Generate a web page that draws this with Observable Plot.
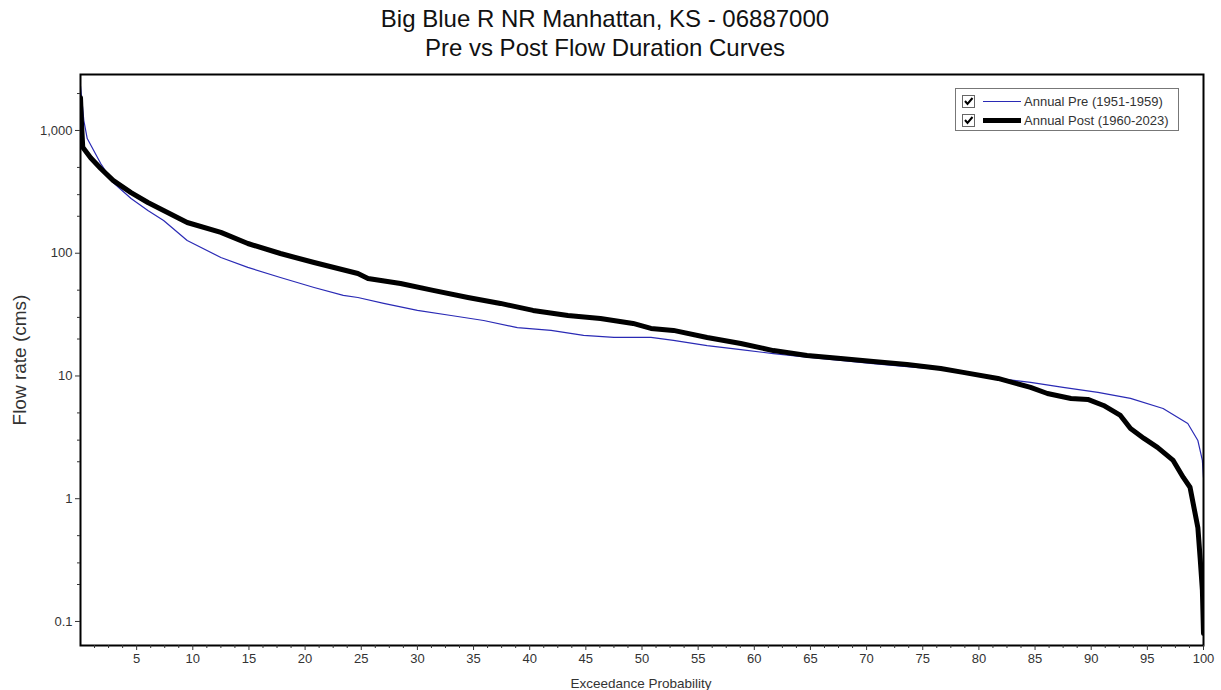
<!DOCTYPE html>
<html>
<head>
<meta charset="utf-8">
<script src="https://cdn.jsdelivr.net/npm/d3@7"></script>
<script src="https://cdn.jsdelivr.net/npm/@observablehq/plot@0.6"></script>
<style>
  html, body { margin: 0; padding: 0; background: #fff; }
  #wrap { position: relative; width: 1221px; height: 690px; font-family: "Liberation Sans", Arial, sans-serif; color: #111; overflow: hidden; }
  #title { position: absolute; left: 0; top: 4px; width: 1210px; text-align: center; font-size: 24px; line-height: 29px; color: #111; }
  #chart { position: absolute; left: 0; top: 64px; }
  #ylabel { position: absolute; left: 20px; top: 360px; transform: translate(-50%, -50%) rotate(-90deg); font-size: 19px; color: #333; white-space: nowrap; }
  #xlabel { position: absolute; left: 641px; top: 683px; transform: translate(-50%, -50%); font-size: 13.5px; color: #333; white-space: nowrap; }
  #legend { position: absolute; left: 955px; top: 88px; width: 224px; height: 43px; border: 1px solid #777; background: #fff; box-sizing: border-box; font-size: 13px; color: #333; }
  .row { position: absolute; left: 6px; height: 16px; display: flex; align-items: center; }
  .cb { width: 11px; height: 11px; border: 1px solid #666; position: relative; margin-right: 8px; background: #fff; }
  .cb svg { position: absolute; left: 0; top: 0; }
  .ln { width: 38px; margin-right: 3px; }
</style>
</head>
<body>
<div id="wrap">
  <div id="title">Big Blue R NR Manhattan, KS - 06887000<br>Pre vs Post Flow Duration Curves</div>
  <div id="chart"></div>
  <div id="ylabel">Flow rate (cms)</div>
  <div id="xlabel">Exceedance Probability</div>
  <div id="legend">
    <div class="row" style="top:4px"><div class="cb"><svg width="11" height="11"><path d="M2 5 L4.5 8 L9.5 2" stroke="#000" stroke-width="2" fill="none"/></svg></div><div class="ln" style="border-top:1.2px solid #2a2ab5"></div><span>Annual Pre (1951-1959)</span></div>
    <div class="row" style="top:23px"><div class="cb"><svg width="11" height="11"><path d="M2 5 L4.5 8 L9.5 2" stroke="#000" stroke-width="2" fill="none"/></svg></div><div class="ln" style="border-top:5px solid #000"></div><span>Annual Post (1960-2023)</span></div>
  </div>
</div>
<script>
// Pre period (1951-1959) flow duration curve
const preExceed = [0, 0.3, 0.6, 1.8, 2.9, 4.5, 6, 7.4, 9.5, 12.5, 14.9, 17.8, 20.8, 23.4, 24.7, 27, 30, 33, 35.9, 38.9, 41.9, 44.8, 47.5, 50.8, 52.8, 55.8, 58.8, 61.7, 64.7, 67.7, 70.6, 73.6, 76.6, 78.6, 81.7, 84.6, 87.5, 90.6, 93.5, 96.4, 98.6, 99.5, 99.9, 100];
const preFlow = [2300, 1200, 860, 538, 377, 279, 223, 185, 127, 92.3, 76.6, 63.4, 52.6, 45.3, 43.6, 39, 34.2, 31.1, 28.3, 24.8, 23.5, 21.4, 20.6, 20.6, 19.5, 17.7, 16.4, 15.2, 14.2, 13.4, 12.6, 11.9, 11.3, 10.5, 9.55, 8.86, 8.06, 7.34, 6.56, 5.43, 4.1, 2.98, 2.05, 1.49];

// Post period (1960-2023) flow duration curve
const postExceed = [0, 0.1, 0.2, 0.9, 1.8, 2.9, 4.5, 6, 7.4, 9.5, 12.5, 14.9, 17.8, 20.8, 24.7, 25.6, 28.5, 31.4, 34.5, 37.4, 40.3, 43.4, 46.3, 49.2, 50.8, 52.8, 55.8, 58.8, 61.7, 64.7, 67.7, 70.6, 73.6, 76.6, 78.6, 81.7, 84.6, 86.1, 88.2, 89.7, 91.1, 92.6, 93.5, 94.7, 95.9, 97.3, 98.2, 98.8, 99.5, 99.7, 99.9, 100];
const postFlow = [1850, 1100, 730, 600, 490, 392, 312, 259, 223, 178, 148, 120, 99.5, 84, 68.4, 62.3, 56.7, 49.8, 43.6, 39.0, 34.2, 31.1, 29.4, 26.8, 24.4, 23.5, 20.6, 18.4, 16.1, 14.7, 13.9, 13.1, 12.4, 11.5, 10.7, 9.55, 8.06, 7.2, 6.56, 6.44, 5.75, 4.77, 3.73, 3.1, 2.62, 2.05, 1.49, 1.24, 0.58, 0.33, 0.18, 0.08];

const xMajorTicks = [5, 10, 15, 20, 25, 30, 35, 40, 45, 50, 55, 60, 65, 70, 75, 80, 85, 90, 95, 100];
const xMinorTicks = d3.range(1, 80).map(i => i * 1.25).filter(v => v < 100 && v % 5 !== 0);
const yMajorTicks = [0.1, 1, 10, 100, 1000];
const yMinorTicks = [0.2, 0.3, 0.5, 2, 3, 5, 20, 30, 50, 200, 300, 500, 2000];

const pre = preExceed.map((x, i) => ({x, y: preFlow[i]}));
const post = postExceed.map((x, i) => ({x, y: postFlow[i]}));

const chart = Plot.plot({
  width: 1221,
  height: 626,
  marginLeft: 80,
  marginRight: 18,
  marginTop: 10,
  marginBottom: 45,
  style: {fontFamily: "'Liberation Sans', Arial, sans-serif", fontSize: "13px", color: "#333", background: "#fff", overflow: "visible"},
  x: {domain: [0, 100]},
  y: {type: "log", domain: [0.0637, 2858]},
  marks: [
    Plot.line(pre, {x: "x", y: "y", stroke: "#2a2ab5", strokeWidth: 1.2, clip: true}),
    Plot.line(post, {x: "x", y: "y", stroke: "#000", strokeWidth: 5, strokeLinejoin: "round", clip: true}),
    Plot.frame({stroke: "#000", strokeWidth: 2}),
    Plot.axisX({ticks: xMajorTicks, tickSize: 5, tickPadding: 3, label: null, fontSize: 13}),
    Plot.axisX({ticks: xMinorTicks, tickSize: 3, tickFormat: () => "", label: null}),
    Plot.axisY({ticks: yMajorTicks, tickSize: 5, tickPadding: 3, tickFormat: d3.format(","), label: null, fontSize: 13}),
    Plot.axisY({ticks: yMinorTicks, tickSize: 3, tickFormat: () => "", label: null})
  ]
});
document.getElementById("chart").appendChild(chart);
</script>
</body>
</html>
